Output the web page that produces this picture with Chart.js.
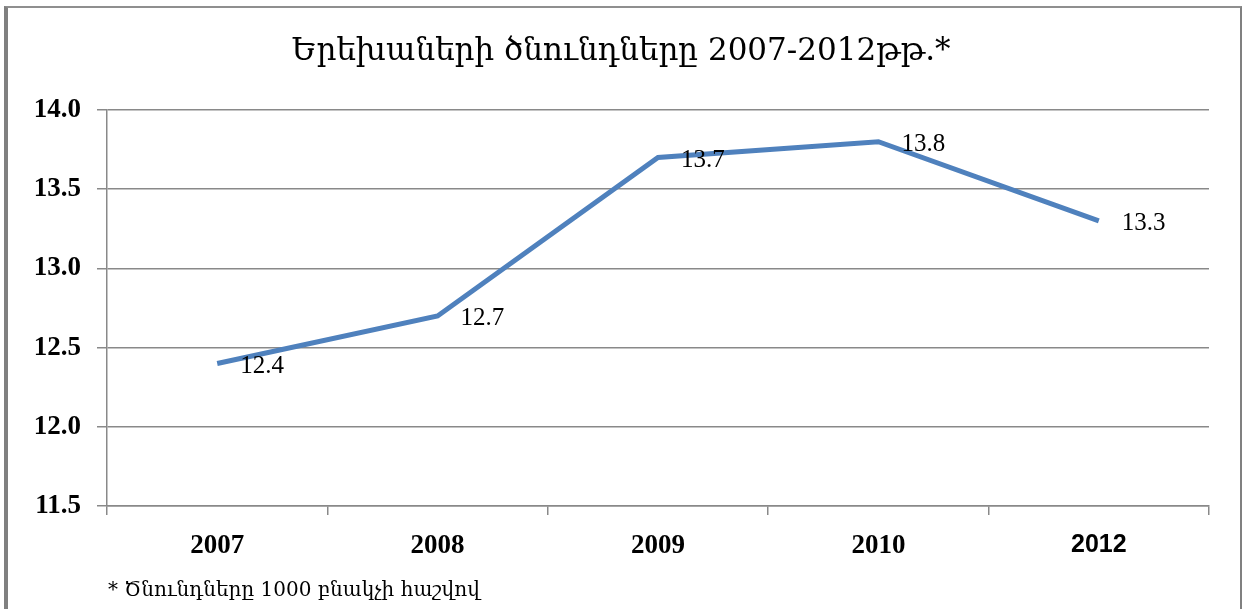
<!DOCTYPE html>
<html>
<head>
<meta charset="utf-8">
<script src="https://cdn.jsdelivr.net/npm/chart.js@4"></script>
<style>
  html, body { margin: 0; padding: 0; background: #fff; }
  #wrap { position: relative; width: 1242px; height: 609px; overflow: hidden; }
  #frame { position: absolute; left: 4px; top: 6px; right: 0; bottom: -10px;
           border-left: 4px solid #808080; border-top: 2px solid #8f8f8f; border-right: 2px solid #808080; }
  #title { position: absolute; left: 0; width: 1242px; top: 31px; text-align: center;
           font-family: "DejaVu Serif", "Liberation Serif", serif; font-size: 31px; color: #000; }
  #note { position: absolute; left: 108px; top: 577px;
          font-family: "DejaVu Serif", "Liberation Serif", serif; font-size: 20px; color: #000; }
</style>
</head>
<body>
<div id="wrap">
  <canvas id="myChart" width="1242" height="609"></canvas>
  <div id="frame"></div>
  <div id="title">Երեխաների ծնունդները 2007-2012թթ.*</div>
  <div id="note">* Ծնունդները 1000 բնակչի հաշվով</div>
</div>
<script>
const years = ['2007', '2008', '2009', '2010', '2012']
const births = [12.4, 12.7, 13.7, 13.8, 13.3]
const yTicks = { min: 11.5, max: 14.0, step: 0.5 }

// values next to each point, drawn right-below like the original
const valueLabels = {
    id: 'valueLabels',
    afterDatasetsDraw(chart) {
        const ctx = chart.ctx
        const meta = chart.getDatasetMeta(0)
        ctx.save()
        ctx.font = '25px "Liberation Serif"'
        ctx.fillStyle = '#000'
        ctx.textBaseline = 'middle'
        meta.data.forEach((pt, i) => {
            ctx.fillText(births[i].toFixed(1), pt.x + 23, pt.y + 3)
        })
        ctx.restore()
    }
}

var ctx = document.getElementById('myChart')
var myChart = new Chart(ctx, {
    type: 'line',
    data: {
        labels: years,
        datasets: [{
            data: births,
            borderColor: '#4F81BD',
            borderWidth: 5,
            pointRadius: 0,
            tension: 0
        }]
    },
    options: {
        responsive: false,
        animation: false,
        layout: { padding: { left: 0, right: 33, top: 110, bottom: 0 } },
        plugins: {
            legend: { display: false },
            tooltip: { enabled: false }
        },
        scales: {
            x: {
                offset: true,
                grid: { offset: true, drawOnChartArea: false, drawTicks: true, tickLength: 9, color: '#898989', lineWidth: 1.5 },
                border: { display: true, color: '#898989', width: 1.5 },
                ticks: {
                    color: '#000',
                    padding: 15,
                    font: (c) => c.index === 4
                        ? { family: '"Liberation Sans"', size: 25, weight: 'bold' }
                        : { family: '"Liberation Serif"', size: 27, weight: 'bold' }
                },
                afterFit: (scale) => { scale.height = 103 }
            },
            y: {
                min: yTicks.min,
                max: yTicks.max,
                grid: { color: '#898989', lineWidth: 1.5, tickLength: 10 },
                border: { display: true, color: '#898989', width: 1.5 },
                ticks: {
                    stepSize: yTicks.step,
                    color: '#000',
                    padding: 16,
                    font: { family: '"Liberation Serif"', size: 27, weight: 'bold' },
                    callback: (v) => v.toFixed(1)
                },
                afterFit: (scale) => { scale.width = 107 }
            }
        }
    },
    plugins: [valueLabels]
})
</script>
</body>
</html>
